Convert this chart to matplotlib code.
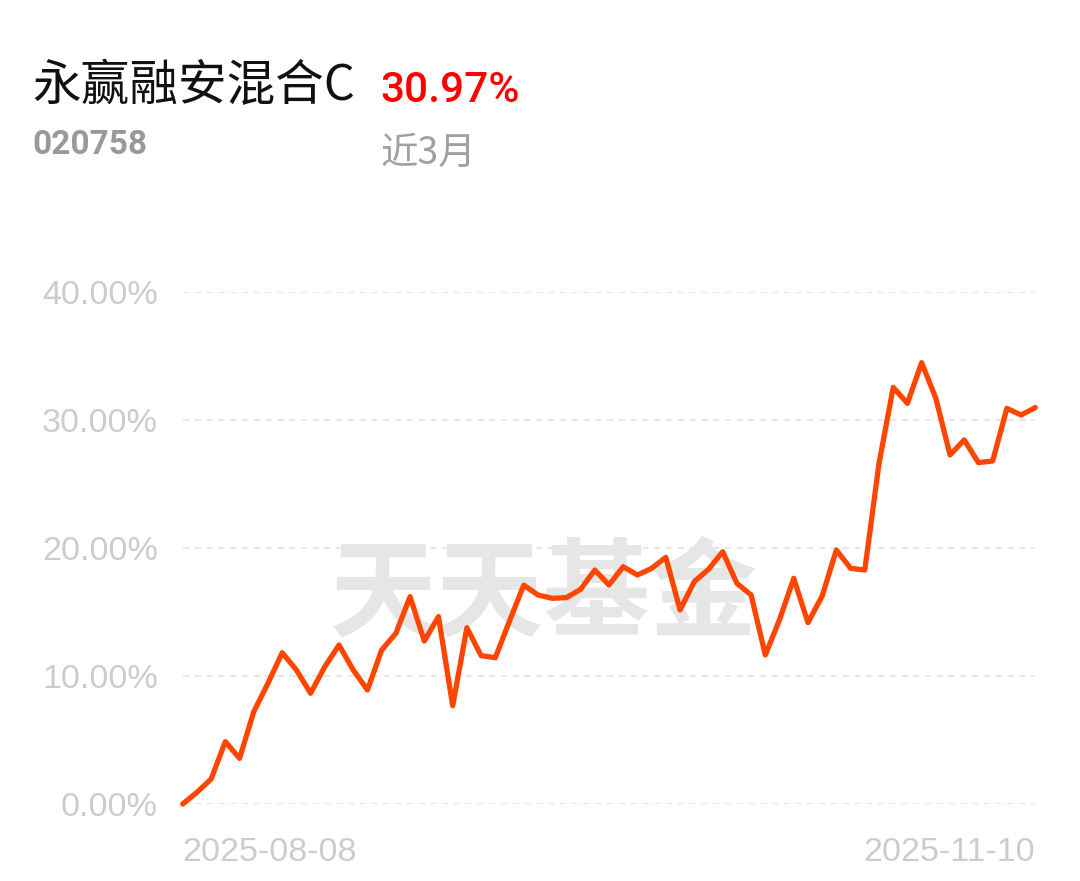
import matplotlib.pyplot as plt

# fund info
fund_name = '永赢融安混合C'
fund_code = '020758'
period_label = '近3月'
period_return = '30.97%'
start_date = '2025-08-08'
end_date = '2025-11-10'

# cumulative return (%) for each trading day
returns = [0.0, 0.91, 1.95, 4.87, 3.57, 7.21, 9.43, 11.82, 10.47, 8.65,
           10.73, 12.42, 10.47, 8.91, 12.03, 13.33, 16.2, 12.73, 14.64, 7.68,
           13.77, 11.59, 11.43, 14.3, 17.1, 16.33, 16.07, 16.12, 16.77, 18.28,
           17.11, 18.54, 17.89, 18.41, 19.27, 15.16, 17.37, 18.33, 19.71, 17.24,
           16.33, 11.64, 14.4, 17.63, 14.17, 16.25, 19.84, 18.41, 18.28, 26.6,
           32.55, 31.3, 34.48, 31.7, 27.27, 28.44, 26.67, 26.8, 30.91, 30.39,
           30.97]
y_ticks = [0, 10, 20, 30, 40]

cjk = ['Noto Sans CJK SC', 'DejaVu Sans']
plt.rcParams['font.family'] = cjk

fig = plt.figure(figsize=(10.8, 8.81), dpi=100)
ax = fig.add_axes([182.7 / 1080, 77 / 881, 852.6 / 1080, 512 / 881])
ax.patch.set_visible(False)

x = list(range(len(returns)))
ax.plot(x, returns, color='#ff4500', linewidth=3.8, solid_joinstyle='round',
        solid_capstyle='round', clip_on=False, zorder=3)

ax.set_xlim(0, len(returns) - 1)
ax.set_ylim(0, 40)
ax.set_yticks(y_ticks)
ax.set_yticklabels(['%.2f%%' % v for v in y_ticks], family='Liberation Sans',
                   fontsize=24.5, color='#cccccc')
ax.set_xticks([0, len(returns) - 1])
xl = ax.set_xticklabels([start_date, end_date], family='Liberation Sans',
                        fontsize=24.5, color='#cccccc')
xl[0].set_ha('left')
xl[1].set_ha('right')
ax.tick_params(axis='y', length=0, pad=18)
ax.tick_params(axis='x', length=0, pad=24)
ax.grid(axis='y', color='#e8e8e8', linestyle=(0, (2.8, 2.5)), linewidth=1.6)
ax.grid(axis='x', visible=False)
for s in ax.spines.values():
    s.set_visible(False)

# watermark
fig.text(544 / 1080, 1 - 596 / 881, '天天基金', ha='center', va='center',
         fontsize=77, fontweight='bold', color='#e6e6e6', zorder=-1)

# header
fig.text(32 / 1080, 1 - 86 / 881, fund_name, ha='left', va='center',
         fontsize=35, color='#111111')
fig.text(380 / 1080, 1 - 90 / 881, period_return, ha='left', va='center',
         fontsize=30.5, color='#ff0000', family='Roboto', fontweight='medium')
fig.text(32 / 1080, 1 - 145 / 881, fund_code, ha='left', va='center',
         fontsize=24, color='#999999', family='Roboto', fontweight='bold')
fig.text(380 / 1080, 1 - 153 / 881, period_label, ha='left', va='center',
         fontsize=27, color='#a0a0a0')

fig.savefig('out.png', dpi=100)
